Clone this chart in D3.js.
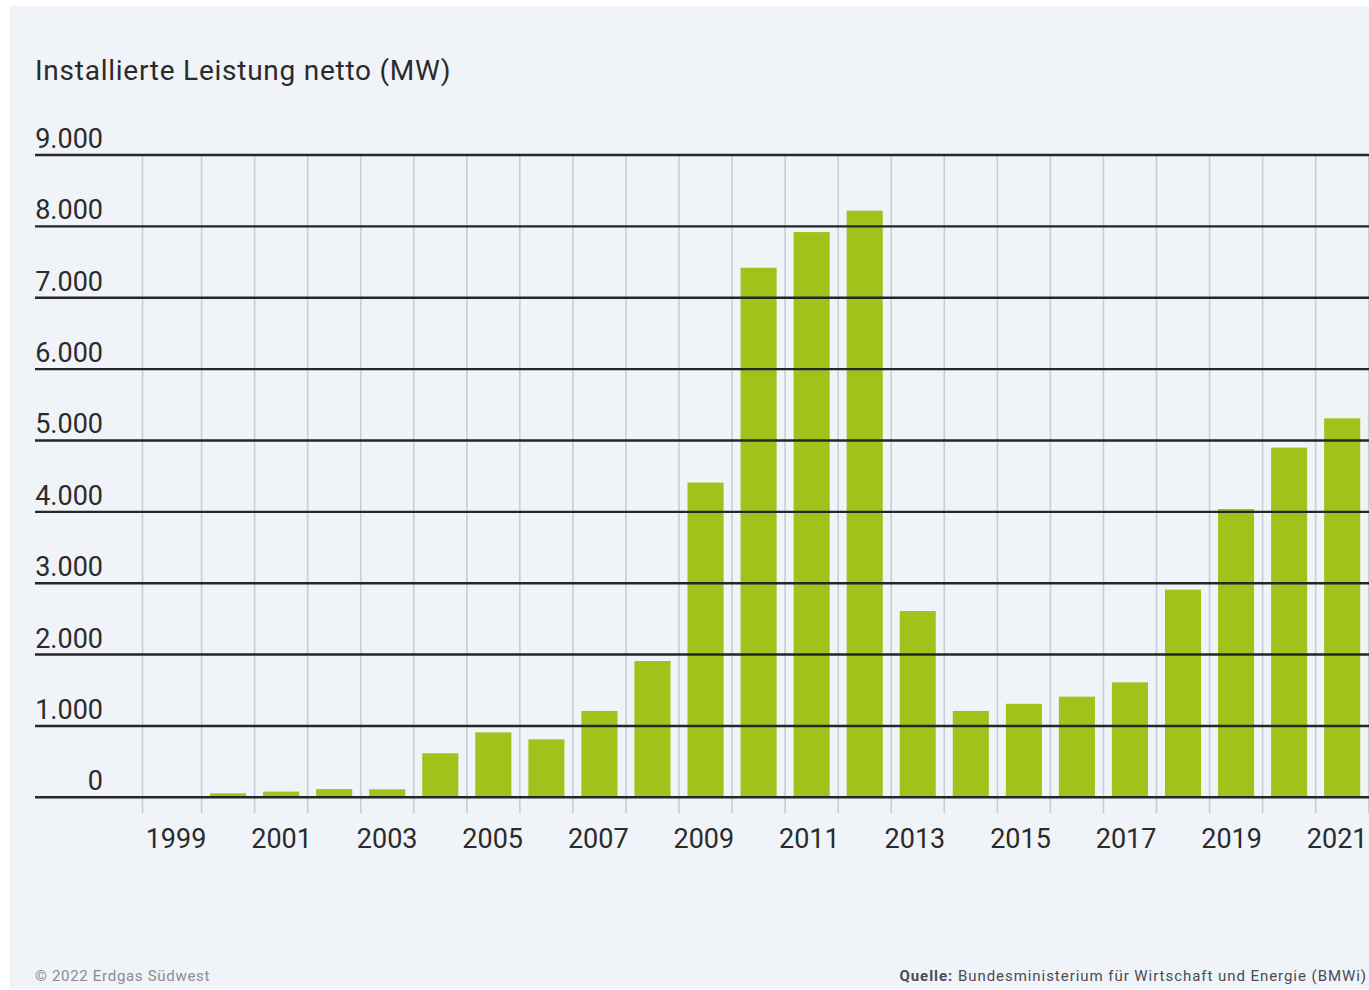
<!DOCTYPE html>
<html><head><meta charset="utf-8">
<script src="https://cdn.jsdelivr.net/npm/d3@7"></script>
<style>
html,body{margin:0;padding:0;background:#fff;}
svg{display:block;}
text{font-family:Roboto,"Liberation Sans",sans-serif;}
</style></head>
<body>
<svg id="c" width="1369" height="990"></svg>
<script>
const years = [1999,2000,2001,2002,2003,2004,2005,2006,2007,2008,2009,2010,2011,2012,2013,2014,2015,2016,2017,2018,2019,2020,2021];
const values = [0,55,80,115,112,617,910,812,1210,1910,4410,7420,7920,8220,2610,1210,1310,1410,1610,2910,4040,4900,5310];
const yTicks = [0,1000,2000,3000,4000,5000,6000,7000,8000,9000];
const labelYears = [1999,2001,2003,2005,2007,2009,2011,2013,2015,2017,2019,2021];
const title = "Installierte Leistung netto (MW)";
const copyright = "© 2022 Erdgas Südwest";
const sourceBold = "Quelle:";
const sourceText = " Bundesministerium für Wirtschaft und Energie (BMWi)";

const de = d3.formatLocale({decimal:",", thousands:".", grouping:[3], currency:["","€"]});
const fmt = de.format(",");

const svg = d3.select("#c");
svg.append("rect").attr("x",10).attr("y",6).attr("width",1359).attr("height",983).attr("fill","#f0f3f8");

const x = d3.scaleBand().domain(years).range([148.5,1368.7]).paddingInner(0.32).paddingOuter(0.16);
const y = d3.scaleLinear().domain([0,9000]).range([797.3,155]);
const half = x.paddingInner()*x.step()/2;
const bw = x.bandwidth();
// label positions (labels drift slightly left of bar centres in the original)
const xl = d3.scaleLinear().domain([years[0], years[years.length-1]])
  .range([x(years[0])+bw/2+1, x(years[years.length-1])+bw/2-5]);

// vertical grid lines at slot boundaries
const bounds = years.map(d => x(d) - half);
bounds[0] = bounds[0] - 6;
bounds.push(x(years[years.length-1]) + bw + half);
svg.append("g").selectAll("line").data(bounds).join("line")
  .attr("x1",d=>d).attr("x2",d=>d)
  .attr("y1",y(9000)).attr("y2",y(0)+16)
  .attr("stroke","#c9cdd5").attr("stroke-width",1.6);

// bars
svg.append("g").selectAll("rect").data(years.map((d,i)=>({year:d,v:values[i]})).filter(d=>d.v>0)).join("rect")
  .attr("x",d=>x(d.year)).attr("width",bw)
  .attr("y",d=>y(d.v)).attr("height",d=>y(0)-y(d.v))
  .attr("fill","#a3c11b");

// horizontal grid lines + labels
const yAxis = svg.append("g");
yAxis.selectAll("line").data(yTicks).join("line")
  .attr("x1",35).attr("x2",1369)
  .attr("y1",d=>y(d)).attr("y2",d=>y(d))
  .attr("stroke","#262626").attr("stroke-width",2.4);
yAxis.selectAll("text").data(yTicks).join("text")
  .attr("x",103).attr("y",d=>y(d)-7)
  .attr("text-anchor","end")
  .attr("font-size",27).attr("fill","#2b2b2b")
  .text(d=>fmt(d));

// x labels
svg.append("g").selectAll("text").data(labelYears).join("text")
  .attr("x",d=>xl(d))
  .attr("y",848)
  .attr("text-anchor","middle")
  .attr("font-size",27).attr("fill","#2b2b2b")
  .text(d=>d);

// title
svg.append("text").attr("x",35).attr("y",80).attr("font-size",28).attr("letter-spacing",0.75).attr("fill","#2b2b2b").text(title);

// footer
svg.append("text").attr("x",35).attr("y",981).attr("font-size",15).attr("letter-spacing",0.7).attr("fill","#8a8c90").text(copyright);
const src = svg.append("text").attr("x",1367).attr("y",981).attr("text-anchor","end").attr("font-size",15).attr("letter-spacing",0.95).attr("fill","#4a4c52");
src.append("tspan").attr("font-weight","bold").text(sourceBold);
src.append("tspan").text(sourceText);
</script>
</body></html>
